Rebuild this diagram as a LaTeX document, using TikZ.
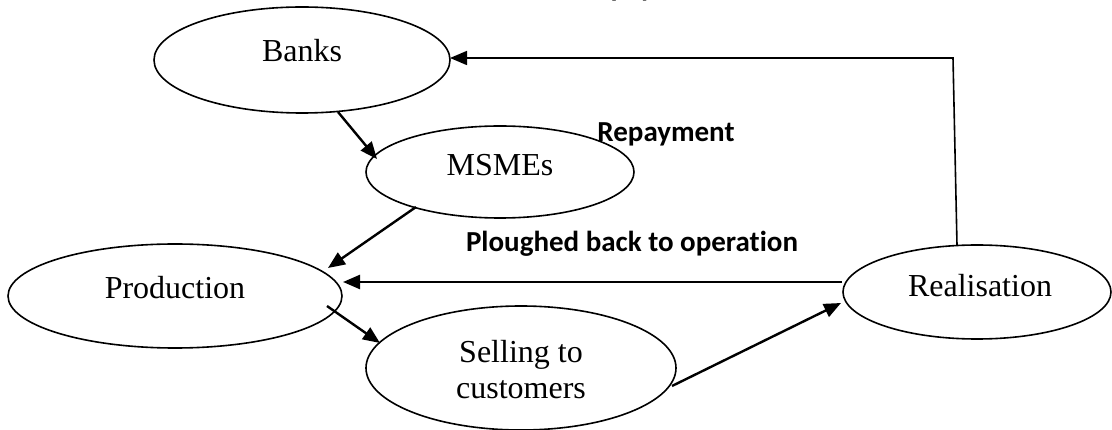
\documentclass[tikz,border=0pt]{standalone}
\usepackage{fontspec}
\setmainfont{Liberation Serif}
\newfontfamily\labfont{Carlito}[Ligatures={NoCommon}]
\usetikzlibrary{arrows.meta,shapes.geometric,calc}
\tikzset{
  oval/.style={draw, line width=1.6pt, ellipse, inner sep=0pt},
  ovaltext/.style={anchor=base, inner sep=0pt, font=\fontsize{32}{38}\selectfont},
  flowlabel/.style={anchor=base, inner sep=0pt, font=\labfont\bfseries\fontsize{29}{34}\selectfont},
  arr/.style={line width=2.4pt, -{Triangle[length=17pt,width=14pt]}},
  thinarr/.style={line width=1.6pt, -{Triangle[length=17pt,width=14pt]}}
}
\begin{document}
\begin{tikzpicture}[x=1pt,y=-1pt]
\useasboundingbox (0,0) rectangle (1112,430);
% ellipses
\node[oval, minimum width=296pt, minimum height=106pt] (banks) at (302,60) {};
\node[oval, minimum width=268pt, minimum height=92pt] (msmes) at (500,172) {};
\node[oval, minimum width=334pt, minimum height=104pt] (production) at (175,296) {};
\node[oval, minimum width=310pt, minimum height=124pt] (selling) at (521,368) {};
\node[oval, minimum width=268pt, minimum height=94pt] (realisation) at (977,292) {};
% ellipse texts
\node[ovaltext] (banks-t) at (302,62) {Banks};
\node[ovaltext] (msmes-t) at (500,176) {MSMEs};
\node[ovaltext] (production-t) at (175,299) {Production};
\node[ovaltext] (selling-t1) at (521,363) {Selling to};
\node[ovaltext] (selling-t2) at (521,399) {customers};
\node[ovaltext] (realisation-t) at (980,297) {Realisation};
% labels
\node[flowlabel] (repay) at (666,142) {Repayment};
\node[flowlabel] (plough) at (632,252) {Ploughed back to operation};
\begin{scope}
\clip (0,0) rectangle (1112,430);
\node[flowlabel, anchor=base west] (toptitle) at (580,-3) {Repayment};
\end{scope}
% connectors
\draw[arr] ($(banks.center)+(36,52)$) -- ($(msmes.center)+(-123,-13)$);
\draw[arr] ($(msmes.center)+(-84,35)$) -- ($(production.center)+(153,-28)$);
\draw[arr] ($(realisation.center)+(-135,-10)$) -- ($(production.center)+(168,-14)$);
\draw[arr] ($(production.center)+(152,10)$) -- ($(selling.center)+(-141,-25)$);
\draw[arr] ($(selling.center)+(151,18)$) -- ($(realisation.center)+(-136,11)$);
\coordinate (corner) at (953,58);
\draw[thinarr] ($(realisation.center)+(-20,-47)$) -- (corner) -- ($(banks.center)+(148,-2)$);
\end{tikzpicture}
\end{document}
